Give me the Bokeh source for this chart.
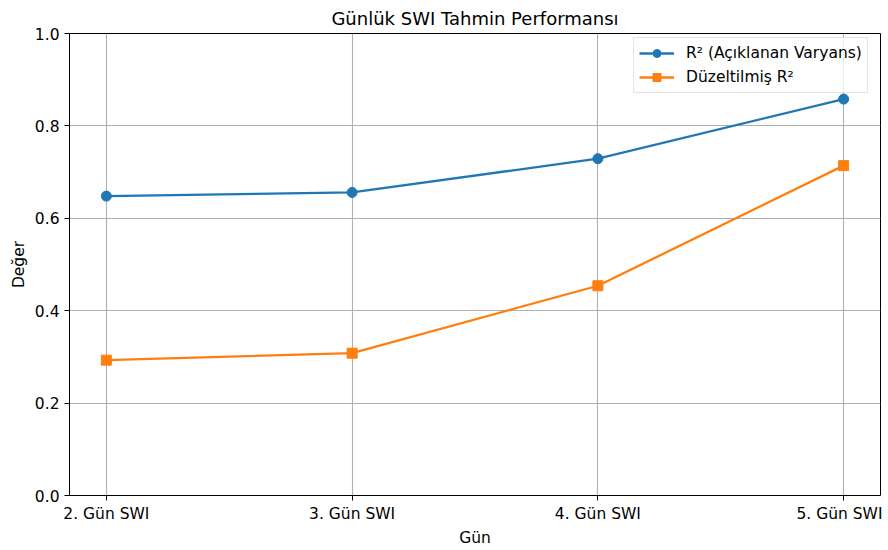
from bokeh.plotting import figure
from bokeh.models import Range1d, FixedTicker, Legend, LegendItem
from bokeh.embed import file_html
from bokeh.resources import INLINE

categories = ["2. Gün SWI", "3. Gün SWI", "4. Gün SWI", "5. Gün SWI"]
r2_values = [0.648, 0.656, 0.729, 0.858]
adj_r2_values = [0.293, 0.308, 0.454, 0.714]
y_ticks = [0.0, 0.2, 0.4, 0.6, 0.8, 1.0]

FONT = "DejaVu Sans"
x = list(range(len(categories)))

p = figure(frame_width=811, frame_height=462, output_backend="svg", toolbar_location=None,
           x_range=Range1d(-0.15, len(categories) - 1 + 0.15), y_range=Range1d(0, 1),
           min_border_left=69, min_border_right=2, min_border_top=33, min_border_bottom=53)

p.title.text = "Günlük SWI Tahmin Performansı"
p.title.align = "center"
p.title.text_font = FONT
p.title.text_font_size = "18px"
p.title.text_font_style = "normal"
p.title.text_color = "black"
p.title.offset = 0

p.outline_line_color = "black"
p.outline_line_width = 1
p.outline_line_alpha = 1

for ax in (p.xaxis[0], p.yaxis[0]):
    ax.axis_line_color = None
    ax.major_tick_out = 5
    ax.major_tick_in = 0
    ax.minor_tick_line_color = None
    ax.major_label_text_font = FONT
    ax.major_label_text_font_size = "15.5px"
    ax.major_label_text_color = "black"
    ax.axis_label_text_font = FONT
    ax.axis_label_text_font_size = "15.5px"
    ax.axis_label_text_font_style = "normal"
    ax.axis_label_text_color = "black"
    ax.major_tick_line_color = "black"

p.xaxis.ticker = FixedTicker(ticks=x)
p.xaxis.major_label_overrides = {i: c for i, c in enumerate(categories)}
p.xaxis.axis_label = "Gün"
p.xaxis.major_label_standoff = 4
p.xaxis.axis_label_standoff = 3

p.yaxis.ticker = FixedTicker(ticks=y_ticks)
p.yaxis.major_label_overrides = {t: f"{t:.1f}" for t in y_ticks}
p.yaxis.axis_label = "Değer"
p.yaxis.major_label_standoff = 5
p.yaxis.axis_label_standoff = 4

p.grid.grid_line_color = "#b0b0b0"
p.grid.grid_line_width = 1.1

blue = "#1f77b4"
orange = "#ff7f0e"

l1 = p.line(x, r2_values, line_color=blue, line_width=2.3)
m1 = p.scatter(x, r2_values, marker="circle", size=10, fill_color=blue, line_color=blue)
l2 = p.line(x, adj_r2_values, line_color=orange, line_width=2.3)
m2 = p.scatter(x, adj_r2_values, marker="square", size=10, fill_color=orange, line_color=orange)

legend = Legend(items=[
    LegendItem(label="R² (Açıklanan Varyans)", renderers=[l1, m1]),
    LegendItem(label="Düzeltilmiş R²", renderers=[l2, m2]),
], location=(564, 402))
legend.margin = 0
legend.padding = 5
legend.spacing = 4
legend.glyph_width = 35
legend.glyph_height = 20
legend.label_text_font = FONT
legend.label_text_font_size = "15.5px"
legend.label_text_color = "black"
legend.label_standoff = 12
legend.border_line_color = "#cccccc"
legend.border_line_width = 1
legend.background_fill_alpha = 0.8
p.add_layout(legend)

open("out.html", "w").write(file_html(p, INLINE))
